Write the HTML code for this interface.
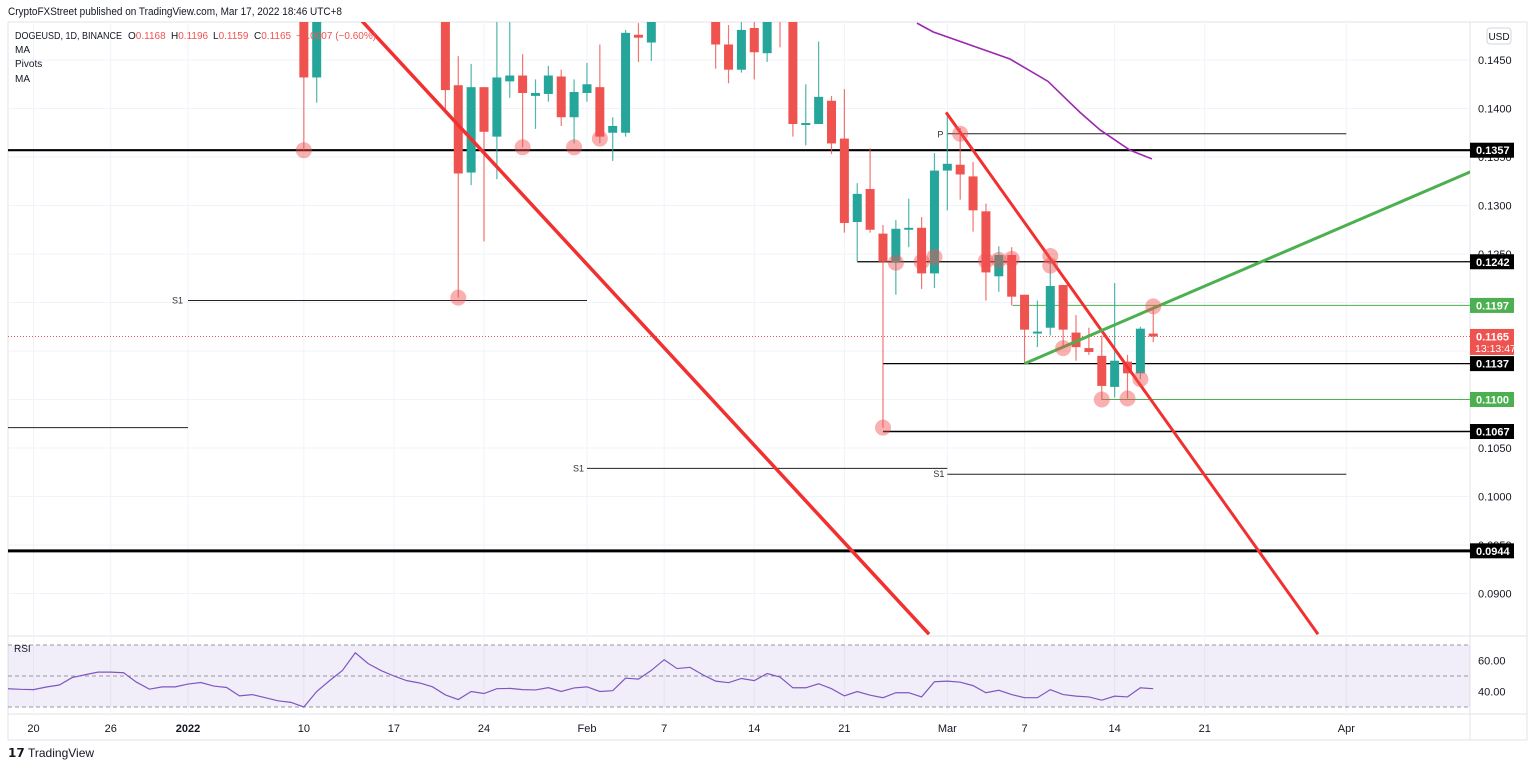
<!DOCTYPE html>
<html><head><meta charset="utf-8">
<style>
html,body{margin:0;padding:0;background:#fff;width:1536px;height:769px;overflow:hidden;font-family:"Liberation Sans",sans-serif;}
svg text{font-family:"Liberation Sans",sans-serif;}
</style></head>
<body>
<svg id="chart" width="1536" height="769" viewBox="0 0 1536 769" xmlns="http://www.w3.org/2000/svg">
<defs><clipPath id="mainClip"><rect x="8" y="22" width="1462" height="613"/></clipPath>
<clipPath id="rsiClip"><rect x="8" y="637" width="1462" height="77"/></clipPath></defs>
<rect x="0" y="0" width="1536" height="769" fill="#fff"/>
<text x="8" y="15" font-size="11" textLength="334" lengthAdjust="spacingAndGlyphs" fill="#131722">CryptoFXStreet published on TradingView.com, Mar 17, 2022 18:46 UTC+8</text>
<rect x="8" y="22" width="1519" height="718" fill="none" stroke="#e0e3eb"/>
<line x1="1470" y1="22" x2="1470" y2="740" stroke="#e0e3eb"/>
<line x1="8" y1="636" x2="1527" y2="636" stroke="#e0e3eb"/>
<line x1="8" y1="714" x2="1527" y2="714" stroke="#e0e3eb"/>
<g id="grid"></g>
<g clip-path="url(#mainClip)">
<g id="levels"></g>
<g id="candles"></g>
<g id="overlays"></g>
</g>
<g id="rsi"></g>
<g id="axes"></g>
<g id="legend" font-size="10" fill="#131722">
<text x="15" y="39"><tspan textLength="107" lengthAdjust="spacingAndGlyphs">DOGEUSD, 1D, BINANCE</tspan><tspan x="128">O</tspan><tspan fill="#ef5350">0.1168</tspan><tspan x="171">H</tspan><tspan fill="#ef5350">0.1196</tspan><tspan x="213">L</tspan><tspan fill="#ef5350">0.1159</tspan><tspan x="254">C</tspan><tspan fill="#ef5350">0.1165</tspan><tspan x="296" fill="#ef5350">−0.0007 (−0.60%)</tspan></text>
<text x="15" y="53">MA</text>
<text x="15" y="67">Pivots</text>
<text x="15" y="82">MA</text>
</g>
<rect x="1487" y="28" width="24" height="16" rx="3" fill="#fff" stroke="#d1d4dc"/>
<text x="1499" y="40" font-size="10" fill="#131722" text-anchor="middle">USD</text>
<g>
<text x="8" y="757" font-size="12" font-weight="bold" fill="#131722">𝟭𝟳</text>
<text x="28" y="757" font-size="12" fill="#131722">TradingView</text>
</g>
</svg>
<script>
// ---- data ----
const dates = ["Jan 10","Jan 11","Jan 12","Jan 13","Jan 14","Jan 15","Jan 16","Jan 17","Jan 18","Jan 19","Jan 20","Jan 21","Jan 22","Jan 23","Jan 24","Jan 25","Jan 26","Jan 27","Jan 28","Jan 29","Jan 30","Jan 31","Feb 1","Feb 2","Feb 3","Feb 4","Feb 5","Feb 6","Feb 7","Feb 8","Feb 9","Feb 10","Feb 11","Feb 12","Feb 13","Feb 14","Feb 15","Feb 16","Feb 17","Feb 18","Feb 19","Feb 20","Feb 21","Feb 22","Feb 23","Feb 24","Feb 25","Feb 26","Feb 27","Feb 28","Mar 1","Mar 2","Mar 3","Mar 4","Mar 5","Mar 6","Mar 7","Mar 8","Mar 9","Mar 10","Mar 11","Mar 12","Mar 13","Mar 14","Mar 15","Mar 16","Mar 17"];
const opens  = [0.152,0.1432,0.158,0.160,0.157,0.159,0.161,0.158,0.160,0.157,0.159,0.152,0.1424,0.1334,0.1422,0.1371,0.1428,0.1434,0.1413,0.1415,0.1433,0.1391,0.1416,0.1422,0.1375,0.1375,0.1476,0.1468,0.156,0.158,0.157,0.159,0.151,0.1466,0.1440,0.1483,0.1457,0.152,0.151,0.1383,0.1384,0.1408,0.1369,0.1283,0.1317,0.1271,0.1241,0.1275,0.1277,0.1230,0.1336,0.1342,0.1330,0.1294,0.1227,0.1249,0.1208,0.1168,0.1174,0.1218,0.1169,0.1153,0.1145,0.1113,0.1139,0.1127,0.1168];
const highs  = [0.153,0.153,0.163,0.164,0.162,0.163,0.165,0.163,0.164,0.162,0.163,0.153,0.1454,0.1446,0.1422,0.150,0.150,0.1456,0.1430,0.1444,0.1440,0.1430,0.1447,0.1466,0.1391,0.1481,0.1488,0.151,0.160,0.162,0.161,0.162,0.152,0.1486,0.150,0.150,0.151,0.153,0.152,0.1425,0.1469,0.1413,0.1420,0.1323,0.1359,0.1280,0.1285,0.1307,0.1288,0.1354,0.1395,0.1380,0.1345,0.1302,0.1258,0.1257,0.1208,0.1202,0.1244,0.1218,0.1187,0.1174,0.1166,0.1220,0.1146,0.1175,0.1196];
const lows   = [0.1357,0.1406,0.155,0.156,0.154,0.156,0.157,0.155,0.156,0.154,0.155,0.1395,0.1205,0.1321,0.1263,0.1327,0.1411,0.1360,0.1379,0.1407,0.1382,0.1364,0.1407,0.1364,0.1346,0.1371,0.1448,0.1449,0.153,0.155,0.154,0.155,0.1441,0.1426,0.1437,0.1430,0.1448,0.1463,0.1371,0.1362,0.1384,0.1353,0.1272,0.1242,0.1272,0.1071,0.1208,0.1257,0.1214,0.1215,0.1295,0.1306,0.1273,0.1202,0.1211,0.1197,0.1137,0.1154,0.1166,0.1153,0.1140,0.1146,0.1100,0.1102,0.1101,0.1121,0.1159];
const closes = [0.1432,0.152,0.160,0.157,0.159,0.161,0.158,0.160,0.157,0.159,0.152,0.1419,0.1333,0.1422,0.1376,0.1432,0.1434,0.1416,0.1416,0.1434,0.1391,0.1417,0.1425,0.1371,0.1382,0.1478,0.1473,0.150,0.158,0.157,0.159,0.151,0.1466,0.1440,0.1481,0.1458,0.150,0.151,0.1384,0.1385,0.1412,0.1364,0.1282,0.1312,0.1275,0.1242,0.1276,0.1277,0.1230,0.1336,0.1343,0.1332,0.1295,0.1231,0.1249,0.1206,0.1172,0.1170,0.1217,0.1172,0.1154,0.1149,0.1114,0.1140,0.1127,0.1173,0.1165];
const firstCandleDay = 23; // day index from Dec 18
const rsiValues = [41.8,41.4,41.2,42.9,44.2,49,50.8,52.5,52.5,52.1,46,41.5,43,43,44.8,45.8,43.5,42.6,37.2,38,36,34,33,30,40,47,53.6,65,58,53.5,50,47,45.5,43,37.8,34.8,40,38.7,41.8,42,41.2,41,42.5,40,42.3,43,40,40.5,48.6,48,53.6,60.5,54.8,55.6,50.8,46.7,45.7,48.4,47,51.6,49.3,42.4,42.4,45,41.8,37.2,40,37.6,36,39.2,39.2,36.5,46.3,46.7,46,43.8,39.2,40.8,38,36,36,41.2,38,37,36.5,34.4,37,36.5,42.4,41.8];
const priceTicks = [0.1450,0.1400,0.1350,0.1300,0.1250,0.1200,0.1150,0.1100,0.1050,0.1000,0.0950,0.0900];
const priceTickLabels = ["0.1450","0.1400","0.1350","0.1300","0.1250","0.1200","0.1150","0.1100","0.1050","0.1000","0.0950","0.0900"];
const dateTickDays = [2,8,14,23,30,37,45,51,58,65,73,79,86,93,104];
const dateTickLabels = ["20","26","2022","10","17","24","Feb","7","14","21","Mar","7","14","21","Apr"];
const rsiTicks = [60,40];
const rsiTickLabels = ["60.00","40.00"];
const maDays = [70.64,71.89,77.87,80.82,82.3,83.31,84.86,87.19,88.9];
const maPrices = [0.1488,0.1479,0.1451,0.1428,0.1409,0.1396,0.1378,0.1357,0.1348];
const levelPrices = [0.1357,0.1242,0.1197,0.1165,0.1137,0.1100,0.1067,0.0944];
const levelLabels = ["0.1357","0.1242","0.1197","0.1165","0.1137","0.1100","0.1067","0.0944"];
const levelKinds = ["black","black","green","red","black","green","black","black"];
const circleDays = [23,35,40,44,46,68,69,71,72,74,76,77,78,81,81,82,85,87,88,89];
const circlePrices = [0.1357,0.1205,0.1360,0.1360,0.1369,0.1071,0.1241,0.1242,0.1247,0.1374,0.1243,0.1244,0.1245,0.1248,0.1238,0.1153,0.1100,0.1101,0.1121,0.1196];

// ---- axis functions ----
const X = d => 188 + (d - 14) * 12.87;
const Y = p => 60 + (0.1450 - p) * 9700;
const RY = r => 676 - (r - 50) * 1.55;
const NS = "http://www.w3.org/2000/svg";
function mk(tag, attrs, parent){const e=document.createElementNS(NS,tag);for(const k in attrs)e.setAttribute(k,attrs[k]);parent.appendChild(e);return e;}

const grid=document.getElementById('grid');
priceTicks.forEach(p=>{const l=mk('line',{x1:8,x2:1470,y1:Y(p),y2:Y(p),stroke:'#f0f3fa'},grid);

});
dateTickDays.forEach(d=>{const l=mk('line',{x1:X(d),x2:X(d),y1:22,y2:714,stroke:'#f0f3fa'},grid);

});

// levels
const lv=document.getElementById('levels');
function hl(x1,x2,p,stroke,w,name,dash){const l=mk('line',{x1:x1,x2:x2,y1:Y(p),y2:Y(p),stroke:stroke,'stroke-width':w},lv);if(dash)l.setAttribute('stroke-dasharray',dash);

return l;}
hl(8,1470,0.1357,'#000',2.2,'support-0-1357');
hl(8,1470,0.0944,'#000',3,'support-0-0944');
hl(X(66),1470,0.1242,'#000',1.2,'level-0-1242');
hl(X(68),1470,0.1137,'#000',1.2,'level-0-1137');
hl(X(68),1470,0.1067,'#000',1.5,'level-0-1067');
hl(X(79)-12,1470,0.1197,'#4caf50',1,'level-0-1197');
hl(X(85),1470,0.1100,'#4caf50',1,'level-0-1100');
hl(8,1470,0.1165,'#ef5350',1,'current-price-line','1 2');
hl(X(73),X(104),0.1374,'#222',1,'pivot-p');
hl(X(73),X(104),0.1023,'#222',1,'pivot-s1-mar');
hl(X(14),X(45),0.1202,'#222',1,'pivot-s1-feb');
hl(X(45),X(73),0.1029,'#222',1,'pivot-s1-jan');
hl(8,X(14),0.1071,'#222',1,'pivot-s1-dec');
[[X(73)-10,Y(0.1374)+4,'P'],[X(73)-14,Y(0.1023)+3,'S1'],[X(14)-16,Y(0.1202)+3,'S1'],[X(45)-14,Y(0.1029)+3,'S1']].forEach(t=>{const e=mk('text',{x:t[0],y:t[1],'font-size':9,fill:'#333'},lv);e.textContent=t[2];

});

// candles
const cg=document.getElementById('candles');
for(let i=0;i<opens.length;i++){
  const d=firstCandleDay+i, x=X(d), o=opens[i], c=closes[i];
  const col = c>=o ? '#26a69a' : '#ef5350';
  const g=mk('g',{},cg);
  
  
  mk('line',{x1:x,x2:x,y1:Y(highs[i]),y2:Y(lows[i]),stroke:col,'stroke-width':1.2,opacity:0.8},g);
  const top=Y(Math.max(o,c)), bot=Y(Math.min(o,c));
  mk('rect',{x:x-4.5,y:top,width:9,height:Math.max(1.5,bot-top),fill:col},g);
}

// overlays
const ov=document.getElementById('overlays');
function tl(d1,p1,d2,p2,col,w,name){const l=mk('line',{x1:X(d1),y1:Y(p1),x2:X(d2),y2:Y(p2),stroke:col,'stroke-width':w},ov);

}
tl(26.0,0.1512,71.58,0.0858,'#f23030',3.5,'major-downtrend-line');
tl(72.9,0.1396,101.8,0.0858,'#f23030',3,'minor-downtrend-line');
tl(79,0.1137,113.7,0.1335,'#4caf50',3,'uptrend-line');
const ma=mk('polyline',{points:maDays.map((d,i)=>X(d)+','+Y(maPrices[i])).join(' '),fill:'none',stroke:'#9c27b0','stroke-width':1.6},ov);


circleDays.forEach((d,i)=>{const c=mk('circle',{cx:X(d),cy:Y(circlePrices[i]),r:8,fill:'rgba(242,80,80,0.45)'},ov);

});

// axes
const ax=document.getElementById('axes');
priceTicks.forEach((p,i)=>{const t=mk('text',{x:1478,y:Y(p)+4,'font-size':11,fill:'#131722'},ax);t.textContent=priceTickLabels[i];

});
dateTickDays.forEach((d,i)=>{const t=mk('text',{x:X(d),y:732,'font-size':11,fill:'#131722','text-anchor':'middle','font-weight':dateTickLabels[i]==='2022'?'bold':'normal'},ax);t.textContent=dateTickLabels[i];

});
levelPrices.forEach((p,i)=>{
  const k=levelKinds[i], fill=k==='black'?'#000':k==='green'?'#4caf50':'#ef5350';
  const h=k==='red'?26:15, y=Y(p)-7.5;
  const g=mk('g',{},ax);
  
  
  mk('rect',{x:1470,y:y,width:44,height:h,fill:fill},g);
  const t=mk('text',{x:1476,y:y+11.5,'font-size':11,'font-weight':'bold',fill:'#fff'},g);t.textContent=levelLabels[i];
  if(k==='red'){const t2=mk('text',{x:1475,y:y+23,'font-size':10.5,fill:'#fff'},g);t2.textContent='13:13:47';}
});

// RSI
const rg=document.getElementById('rsi');
const band=mk('rect',{x:8,y:RY(70),width:1462,height:RY(30)-RY(70),fill:'rgba(126,87,194,0.1)'},rg);


[70,50,30].forEach(v=>{const l=mk('line',{x1:8,x2:1470,y1:RY(v),y2:RY(v),stroke:'#9598a1','stroke-dasharray':'4 3'},rg);

});
const rl=mk('polyline',{points:rsiValues.map((v,i)=>X(i)+','+RY(v)).join(' '),fill:'none',stroke:'#7e57c2','stroke-width':1.2,'clip-path':'url(#rsiClip)'},rg);


rsiTicks.forEach((v,i)=>{const t=mk('text',{x:1478,y:RY(v)+4,'font-size':11,fill:'#131722'},rg);t.textContent=rsiTickLabels[i];

});
const rt=mk('text',{x:14,y:652,'font-size':10,fill:'#131722'},rg);rt.textContent='RSI';


</script>
</body></html>
